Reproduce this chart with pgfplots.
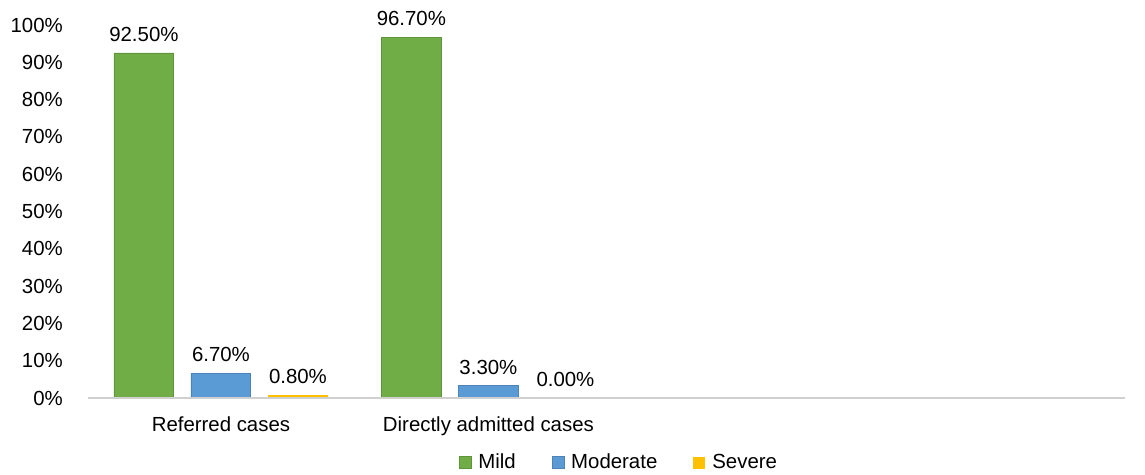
\documentclass[border=0pt]{standalone}
\usepackage{fontspec}
\setmainfont{Liberation Sans}
\usepackage{pgfplots}
\pgfplotsset{compat=1.18}
\definecolor{cMild}{HTML}{70AD47}
\definecolor{cMod}{HTML}{5B9BD5}
\definecolor{cSev}{HTML}{FFC000}
\definecolor{axGray}{HTML}{D0D0D0}
\begin{document}
\fontsize{10.2}{12}\selectfont
\begin{tikzpicture}
\begin{axis}[
  at={(0pt,0pt)}, anchor=south west,
  scale only axis, width=518.5pt, height=186.5pt,
  font=\fontsize{10.2}{12}\selectfont,
  /pgf/number format/assume math mode=true,
  ybar, bar width=0.224,
  xmin=-0.497, xmax=3.38,
  ymin=0, ymax=100,
  clip=false,
  axis line style={draw=none},
  major tick length=0pt,
  tick style={draw=none},
  xtick={0,1},
  xticklabels={Referred cases, Directly admitted cases},
  xticklabel style={yshift=-6pt},
  ytick={0,10,...,100},
  yticklabels={0\%,10\%,20\%,30\%,40\%,50\%,60\%,70\%,80\%,90\%,100\%},
  yticklabel style={anchor=east, xshift=-9pt},
  nodes near coords={\pgfmathprintnumber[fixed,fixed zerofill,precision=2]{\pgfplotspointmeta}\%},
  every node near coord/.append style={font=\fontsize{10.2}{12}\selectfont, yshift=2pt},
  legend style={at={(0.513,-0.174)}, anchor=center, draw=none, fill=none,
    legend columns=3, font=\fontsize{10.2}{12}\selectfont,
    /tikz/every even column/.append style={column sep=16pt}},
  legend image code/.code={\fill[#1] (0pt,-3pt) rectangle (6pt,3pt); \path[draw=none,fill=none] (0pt,0pt) -- (7.5pt,0pt);},
]
\addplot[fill=cMild, draw=cMild!85!black, line width=0.4pt, bar shift=-0.288] coordinates {(0,92.5) (1,96.7)};
\addplot[fill=cMod, draw=cMod!85!black, line width=0.4pt, bar shift=0] coordinates {(0,6.7) (1,3.3)};
\addplot[fill=cSev, draw=none, bar shift=0.288] coordinates {(0,0.8) (1,0.0)};
\legend{Mild, Moderate, Severe}
\draw[axGray, line width=1pt] (rel axis cs:0,0) -- (rel axis cs:1,0);
\end{axis}
\pgfresetboundingbox
\path (-44pt,-38.5pt) rectangle (528.5pt,199pt);
\end{tikzpicture}
\end{document}
